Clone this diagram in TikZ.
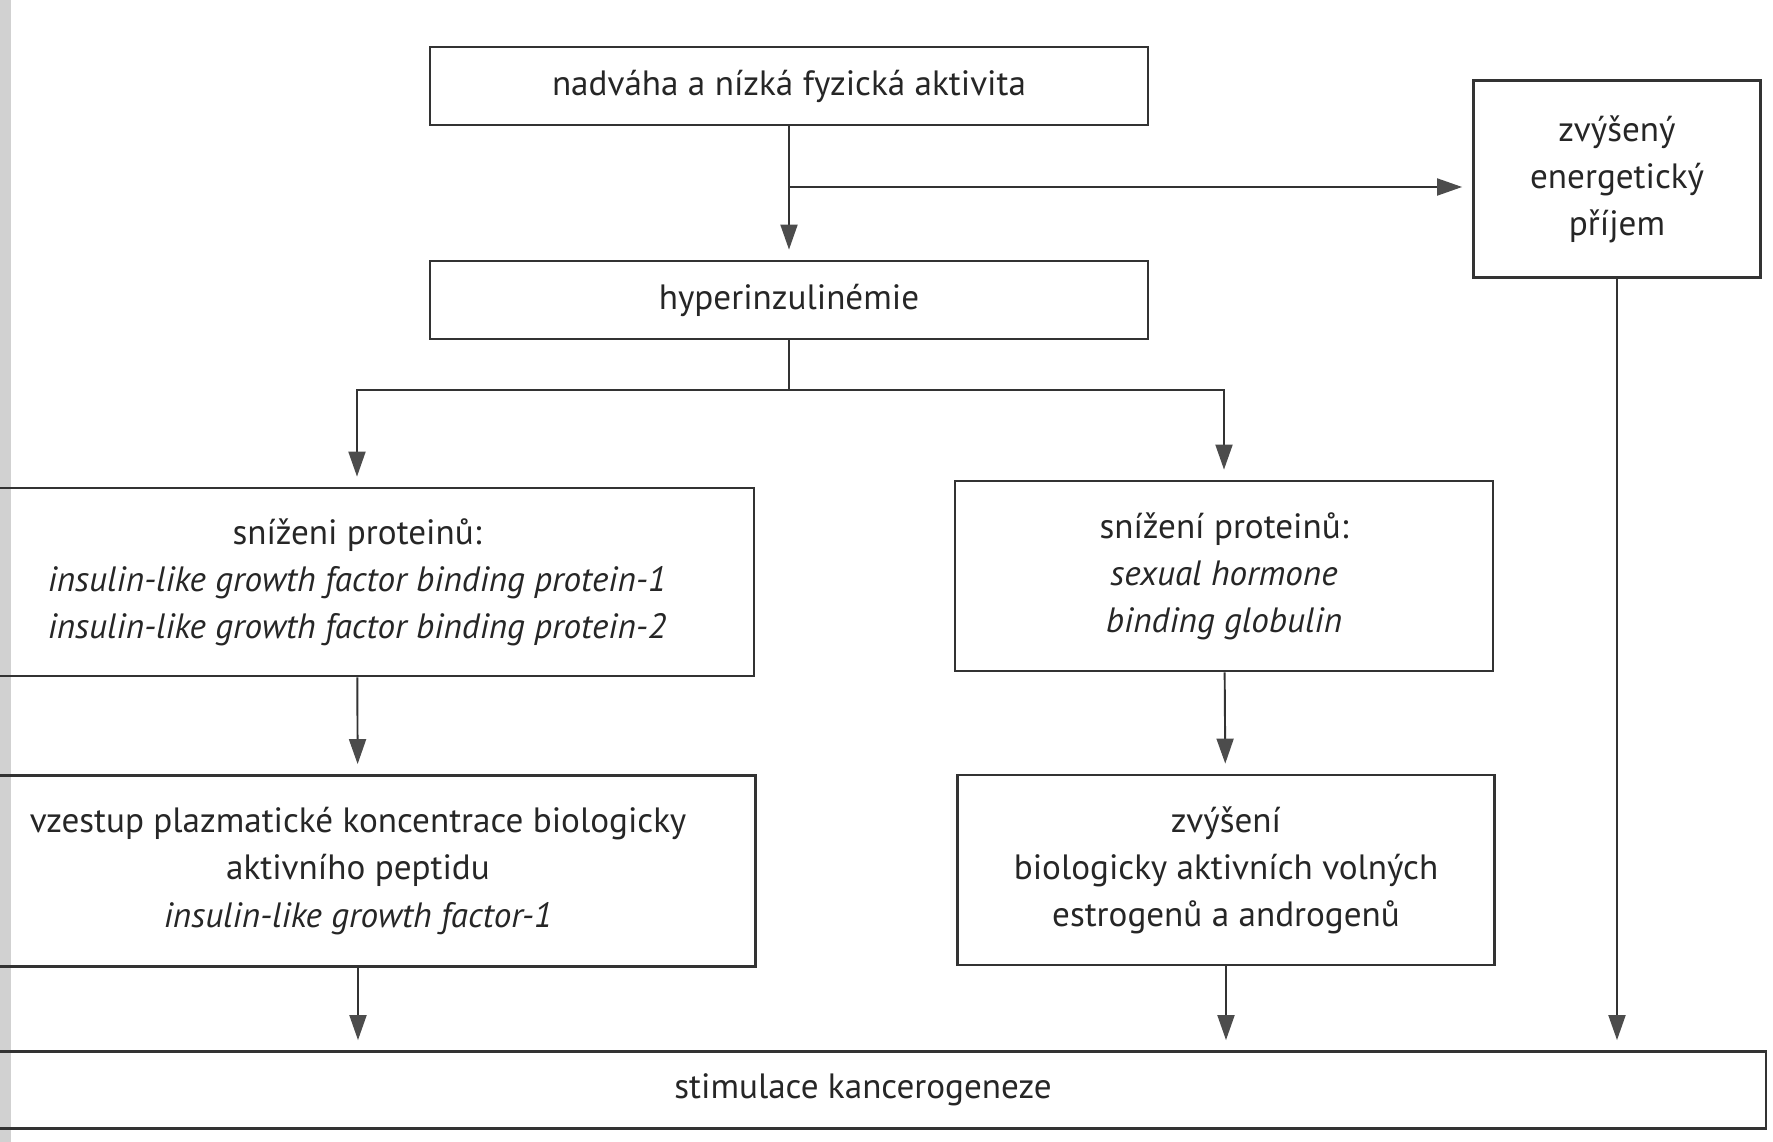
\documentclass[tikz,border=0pt]{standalone}
\usepackage{fontspec}
\setmainfont{PT Sans}
\usetikzlibrary{arrows.meta,positioning}
\tikzset{
  blk/.style  = { draw=black!80, line width=0.8pt, align=center, inner sep=0pt,
    text=black!85, font=\fontsize{10}{13.4}\selectfont },
  ln/.style   = { draw=black!80, line width=0.55pt },
  arr/.style  = { ln, shorten >=1mm,
    -{Triangle[length=2.5mm,width=1.7mm,color=black!70]} }
}

\begin{document}
\begin{tikzpicture}[x=0.1mm,y=-0.1mm]
    \useasboundingbox (0,0) rectangle (1773,1142);
    \fill[black!18] (0,0) rectangle (11,1142);
    % top of the chain
    \node[blk, minimum width=7.18cm, minimum height=0.78cm] (nadv) at (789,86) {nadváha a nízká fyzická aktivita};
    \node[blk, minimum width=7.18cm, minimum height=0.78cm] (hyper) at (789,300) {hyperinzulinémie};
    \node[blk, minimum width=2.87cm, minimum height=1.97cm] (prijem) at (1617,179) {zvýšený\\energetický\\příjem};
    % two branches
    \node[blk, minimum width=7.94cm, minimum height=1.88cm] (igfbp) at (357,582) {sníženi proteinů:\\\textit{insulin-like growth factor binding protein-1}\\\textit{insulin-like growth factor binding protein-2}};
    \node[blk, minimum width=5.38cm, minimum height=1.90cm] (shbg) at (1224,576) {snížení proteinů:\\\textit{sexual hormone}\\\textit{binding globulin}};
    \node[blk, minimum width=7.95cm, minimum height=1.91cm] (igf) at (358,871) {vzestup plazmatické koncentrace biologicky\\aktivního peptidu\\\textit{insulin-like growth factor-1}};
    \node[blk, minimum width=5.37cm, minimum height=1.90cm] (estro) at (1226,870) {zvýšení\\biologicky aktivních volných\\estrogenů a androgenů};
    \node[blk, minimum width=18.06cm, minimum height=0.77cm] (stim) at (863,1090) {stimulace kancerogeneze};
    % connectors
    \coordinate (split) at (789,187);
    \coordinate (fork) at (789,390);
    \draw[arr] (nadv) -- (hyper);
    \draw[arr] (split) -- (split -| prijem.west);
    \draw[ln] (hyper) -- (fork);
    \draw[arr] (fork) -| (igfbp);
    \draw[arr] (fork) -| (shbg);
    \draw[arr] (igfbp) -- (igf);
    \draw[arr] (shbg) -- (estro);
    \draw[arr] (igf.south) -- (igf.south |- stim.north);
    \draw[arr] (estro) -- (estro |- stim.north);
    \draw[arr] (prijem) -- (prijem |- stim.north);
\end{tikzpicture}
\end{document}
